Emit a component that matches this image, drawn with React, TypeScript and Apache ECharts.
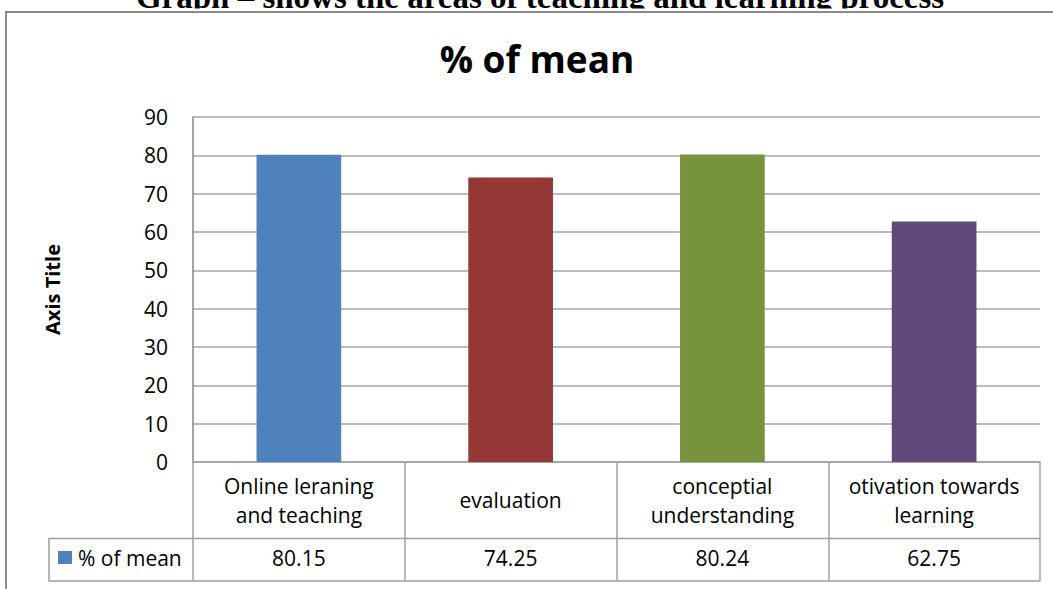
import React, { useEffect, useRef } from "react";
import * as echarts from "echarts";

const pageTitle = "Graph – shows the areas of teaching and learning process";
const chartTitle = "% of mean";
const seriesName = "% of mean";
const yAxisTitle = "Axis Title";
const categories = [
  "Online leraning\nand teaching",
  "evaluation",
  "conceptial\nunderstanding",
  "otivation towards\nlearning",
];
const values = [80.15, 74.25, 80.24, 62.75];
const barColors = ["#4F81BD", "#953735", "#77933C", "#604A7B"];
const yTicks = { min: 0, max: 90, interval: 10 };

const FONT = "'Open Sans'";
const GRID_COLOR = "#a6a6a6";
const TABLE_COLOR = "#a0a0a0";

export default function App() {
  const ref = useRef<HTMLDivElement>(null);
  useEffect(() => {
    if (!ref.current) return;
    const chart = echarts.init(ref.current, null, { renderer: "svg" });
    chart.setOption({
      animation: false,
      backgroundColor: "#ffffff",
      grid: { left: 193, right: 13, top: 117, bottom: 127 },
      xAxis: [
        {
          type: "category",
          data: categories,
          position: "bottom",
          boundaryGap: true,
          axisLine: { show: true, lineStyle: { color: TABLE_COLOR, width: 1.5 } },
          axisTick: { show: true, length: 119, lineStyle: { color: TABLE_COLOR, width: 1.5 } },
          axisLabel: {
            margin: 38,
            verticalAlign: "middle",
            lineHeight: 29,
            fontSize: 21,
            color: "#000",
            fontFamily: FONT,
            interval: 0,
          },
          splitLine: { show: false },
        },
        {
          type: "category",
          data: values.map((v) => v.toFixed(2)),
          position: "bottom",
          axisLine: { show: false },
          axisTick: { show: false },
          axisLabel: {
            margin: 96,
            verticalAlign: "middle",
            fontSize: 21,
            color: "#000",
            fontFamily: FONT,
            interval: 0,
          },
          splitLine: { show: false },
        },
      ],
      yAxis: {
        type: "value",
        min: yTicks.min,
        max: yTicks.max,
        interval: yTicks.interval,
        name: yAxisTitle,
        nameLocation: "middle",
        nameGap: 131,
        nameTextStyle: { fontSize: 20, fontWeight: "bold", color: "#000", fontFamily: FONT },
        axisLine: { show: true, lineStyle: { color: "#868686", width: 1.5 } },
        axisTick: { show: false },
        axisLabel: { fontSize: 21, color: "#000", fontFamily: FONT, margin: 25 },
        splitLine: { show: true, lineStyle: { color: GRID_COLOR, width: 1.5 } },
      },
      series: [
        {
          name: seriesName,
          type: "bar",
          xAxisIndex: 0,
          barWidth: "40%",
          data: values.map((v, i) => ({ value: v, itemStyle: { color: barColors[i] } })),
        },
      ],
      graphic: [
        {
          type: "text",
          x: 540,
          y: -3,
          z: 1,
          style: {
            text: pageTitle,
            font: "bold 33px 'Liberation Serif', 'Times New Roman', serif",
            fill: "#000",
            textAlign: "center",
            textVerticalAlign: "middle",
          },
        },
        {
          type: "rect",
          z: 2,
          shape: { x: 0, y: 8.5, width: 1053, height: 20 },
          style: { fill: "#ffffff" },
        },
        {
          type: "polyline",
          z: 3,
          shape: { points: [[6, 589], [6, 12], [1053, 12]] },
          style: { stroke: "#8a8a8a", lineWidth: 2, fill: "none" },
        },
        {
          type: "text",
          x: 537,
          y: 58,
          z: 3,
          style: {
            text: chartTitle,
            font: `bold 37px ${FONT}`,
            fill: "#000",
            textAlign: "center",
            textVerticalAlign: "middle",
          },
        },
        {
          type: "polyline",
          z: 3,
          shape: { points: [[1040, 538.5], [49, 538.5], [49, 581], [1040, 581]] },
          style: { stroke: TABLE_COLOR, lineWidth: 1.5, fill: "none" },
        },
        {
          type: "rect",
          z: 3,
          shape: { x: 58, y: 551, width: 14, height: 13 },
          style: { fill: barColors[0] },
        },
        {
          type: "text",
          x: 78,
          y: 558,
          z: 3,
          style: {
            text: seriesName,
            font: `21px ${FONT}`,
            fill: "#000",
            textAlign: "left",
            textVerticalAlign: "middle",
          },
        },
      ],
    });
    return () => chart.dispose();
  }, []);
  return (
    <div
      ref={ref}
      style={{ position: "fixed", left: 0, top: 0, width: 1053, height: 589 }}
    />
  );
}
